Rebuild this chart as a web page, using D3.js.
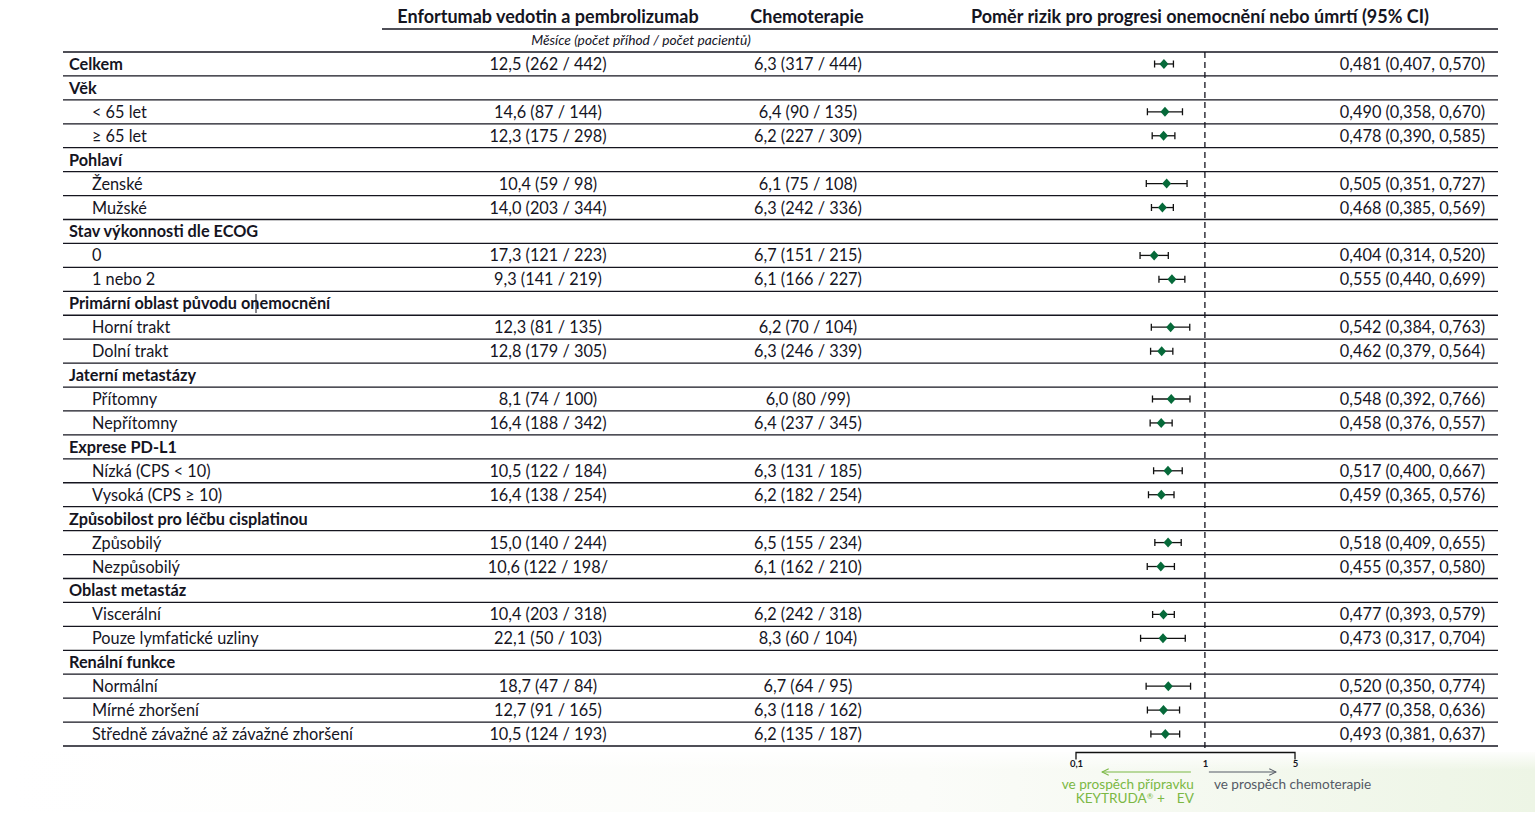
<!DOCTYPE html>
<html><head><meta charset="utf-8">
<script src="https://cdn.jsdelivr.net/npm/d3@7"></script>
<style>
html,body{margin:0;padding:0;background:#fff;}
svg{display:block;font-family:Lato,"Open Sans",sans-serif;}
</style></head><body>
<svg id="c" width="1535" height="832"></svg>
<script>
const labels = ["Celkem","Věk","< 65 let","≥ 65 let","Pohlaví","Ženské","Mužské","Stav výkonnosti dle ECOG","0","1 nebo 2","Primární oblast původu onemocnění","Horní trakt","Dolní trakt","Jaterní metastázy","Přítomny","Nepřítomny","Exprese PD-L1","Nízká (CPS < 10)","Vysoká (CPS ≥ 10)","Způsobilost pro léčbu cisplatinou","Způsobilý","Nezpůsobilý","Oblast metastáz","Viscerální","Pouze lymfatické uzliny","Renální funkce","Normální","Mírné zhoršení","Středně závažné až závažné zhoršení"];
const isGroup = [1,1,0,0,1,0,0,1,0,0,1,0,0,1,0,0,1,0,0,1,0,0,1,0,0,1,0,0,0];
const evText = ["12,5 (262 / 442)","","14,6 (87 / 144)","12,3 (175 / 298)","","10,4 (59 / 98)","14,0 (203 / 344)","","17,3 (121 / 223)","9,3 (141 / 219)","","12,3 (81 / 135)","12,8 (179 / 305)","","8,1 (74 / 100)","16,4 (188 / 342)","","10,5 (122 / 184)","16,4 (138 / 254)","","15,0 (140 / 244)","10,6 (122 / 198/","","10,4 (203 / 318)","22,1 (50 / 103)","","18,7 (47 / 84)","12,7 (91 / 165)","10,5 (124 / 193)"];
const chemoText = ["6,3 (317 / 444)","","6,4 (90 / 135)","6,2 (227 / 309)","","6,1 (75 / 108)","6,3 (242 / 336)","","6,7 (151 / 215)","6,1 (166 / 227)","","6,2 (70 / 104)","6,3 (246 / 339)","","6,0 (80 /99)","6,4 (237 / 345)","","6,3 (131 / 185)","6,2 (182 / 254)","","6,5 (155 / 234)","6,1 (162 / 210)","","6,2 (242 / 318)","8,3 (60 / 104)","","6,7 (64 / 95)","6,3 (118 / 162)","6,2 (135 / 187)"];
const hr = [0.481,null,0.490,0.478,null,0.505,0.468,null,0.404,0.555,null,0.542,0.462,null,0.548,0.458,null,0.517,0.459,null,0.518,0.455,null,0.477,0.473,null,0.520,0.477,0.493];
const hrLo = [0.407,null,0.358,0.390,null,0.351,0.385,null,0.314,0.440,null,0.384,0.379,null,0.392,0.376,null,0.400,0.365,null,0.409,0.357,null,0.393,0.317,null,0.350,0.358,0.381];
const hrHi = [0.570,null,0.670,0.585,null,0.727,0.569,null,0.520,0.699,null,0.763,0.564,null,0.766,0.557,null,0.667,0.576,null,0.655,0.580,null,0.579,0.704,null,0.774,0.636,0.637];
const axisTicks = [0.1,1,5];
const headers = ["Enfortumab vedotin a pembrolizumab","Chemoterapie","Poměr rizik pro progresi onemocnění nebo úmrtí (95% CI)"];
const subHeader = "Měsíce (počet příhod / počet pacientů)";

const fmt = v => v.toFixed(3).replace(".", ",");
const svg = d3.select("#c");
const ink = "#15151f";
const FS = 16.3;

// background band
const defs = svg.append("defs");
const g1 = defs.append("linearGradient").attr("id","bg").attr("x1","0").attr("x2","1");
g1.append("stop").attr("offset","0").attr("stop-color","#ffffff");
g1.append("stop").attr("offset","0.6").attr("stop-color","#fbfcf9");
g1.append("stop").attr("offset","1").attr("stop-color","#edf5e5");
const g2 = defs.append("linearGradient").attr("id","bg2").attr("x1","0").attr("x2","0").attr("y1","0").attr("y2","1");
g2.append("stop").attr("offset","0").attr("stop-color","#ffffff").attr("stop-opacity","0.9");
g2.append("stop").attr("offset","1").attr("stop-color","#ffffff").attr("stop-opacity","0");
svg.append("rect").attr("x",10).attr("y",752).attr("width",1525).attr("height",60).attr("fill","url(#bg)");
svg.append("rect").attr("x",10).attr("y",752).attr("width",1525).attr("height",18).attr("fill","url(#bg2)");

const idx = d3.range(labels.length);
const y = d3.scaleBand().domain(idx).range([52, 746]).padding(0);
const x = d3.scaleLog().domain([0.1, 5]).range([1076, 1295]);
const xL = 63, xR = 1498;

// header
svg.append("g").selectAll("text").data(headers).join("text")
  .attr("x",(d,i)=>[548,807,1200][i]).attr("y",23)
  .attr("text-anchor","middle").attr("font-weight",700).attr("font-size",18).attr("fill",ink).text(d=>d);
svg.append("line").attr("x1",382).attr("x2",xR).attr("y1",29).attr("y2",29).attr("stroke",ink).attr("stroke-width",1.3);
svg.append("text").attr("x",641).attr("y",45).attr("text-anchor","middle").attr("font-style","italic")
  .attr("font-size",13.8).attr("fill",ink).text(subHeader);

// row separators
svg.append("g").selectAll("line").data(idx.concat([labels.length])).join("line")
  .attr("x1",xL).attr("x2",xR)
  .attr("y1",d=> d < labels.length ? y(d) : y.range()[1])
  .attr("y2",d=> d < labels.length ? y(d) : y.range()[1])
  .attr("stroke",ink).attr("stroke-width",1.3);

const cy = i => y(i) + y.bandwidth()/2;
const by = i => cy(i) + 6;

// labels
svg.append("g").selectAll("text").data(idx).join("text")
  .attr("x",i=> isGroup[i] ? 69 : 92).attr("y",by)
  .attr("font-size",FS).attr("font-weight",i=>isGroup[i]?700:400).attr("fill",ink)
  .text(i=>labels[i]);

// EV & chemo
svg.append("g").selectAll("text").data(idx.filter(i=>evText[i])).join("text")
  .attr("x",548).attr("y",by).attr("text-anchor","middle").attr("font-size",FS).attr("fill",ink)
  .text(i=>evText[i]);
svg.append("g").selectAll("text").data(idx.filter(i=>chemoText[i])).join("text")
  .attr("x",808).attr("y",by).attr("text-anchor","middle").attr("font-size",FS).attr("fill",ink)
  .text(i=>chemoText[i]);
// HR text
svg.append("g").selectAll("text").data(idx.filter(i=>hr[i]!=null)).join("text")
  .attr("x",1485).attr("y",by).attr("text-anchor","end").attr("font-size",FS).attr("fill",ink)
  .text(i=>`${fmt(hr[i])} (${fmt(hrLo[i])}, ${fmt(hrHi[i])})`);

// reference dashed line
svg.append("line").attr("x1",x(1)).attr("x2",x(1)).attr("y1",52).attr("y2",753)
  .attr("stroke",ink).attr("stroke-width",1.3).attr("stroke-dasharray","6,4");

// CI whiskers and diamonds
const pts = idx.filter(i=>hr[i]!=null);
const fg = svg.append("g");
fg.selectAll("line.ci").data(pts).join("line").attr("class","ci")
  .attr("x1",i=>x(hrLo[i])).attr("x2",i=>x(hrHi[i])).attr("y1",cy).attr("y2",cy)
  .attr("stroke","#111").attr("stroke-width",1.3);
fg.selectAll("path.cap").data(pts).join("path").attr("class","cap")
  .attr("d",i=>`M${x(hrLo[i])},${cy(i)-3.5}V${cy(i)+3.5}M${x(hrHi[i])},${cy(i)-3.5}V${cy(i)+3.5}`)
  .attr("stroke","#111").attr("stroke-width",1.3).attr("fill","none");
fg.selectAll("path.dm").data(pts).join("path").attr("class","dm")
  .attr("d",i=>{const px=x(hr[i]),py=cy(i);return `M${px},${py-5}L${px+4.5},${py}L${px},${py+5}L${px-4.5},${py}Z`;})
  .attr("fill","#066a3a");

// axis
const axis = d3.axisBottom(x).tickValues(axisTicks).tickSizeInner(0).tickSizeOuter(6).tickPadding(8)
  .tickFormat(d=>String(d).replace(".",","));
const ag = svg.append("g").attr("transform","translate(0,752.5)").call(axis);
ag.select(".domain").attr("stroke","#111").attr("stroke-width",1.3)
  .attr("d",`M${x(0.1)},7V0H${x(5)}V7`);
ag.selectAll("text").attr("font-size",9.5).attr("font-weight",700).attr("fill",ink).attr("font-family","Lato,sans-serif");

// arrows
const green = "#7bb844", grey = "#555a66";
defs.append("marker").attr("id","ag").attr("viewBox","0 0 10 10").attr("refX",9).attr("refY",5)
  .attr("markerWidth",7).attr("markerHeight",7).attr("orient","auto")
  .append("path").attr("d","M1,1L9,5L1,9").attr("fill","none").attr("stroke",green).attr("stroke-width",1.3);
defs.append("marker").attr("id","ak").attr("viewBox","0 0 10 10").attr("refX",9).attr("refY",5)
  .attr("markerWidth",7).attr("markerHeight",7).attr("orient","auto")
  .append("path").attr("d","M1,1L9,5L1,9").attr("fill","none").attr("stroke",grey).attr("stroke-width",1.3);
svg.append("line").attr("x1",x(1)-14).attr("x2",x(0.1)+26).attr("y1",772).attr("y2",772)
  .attr("stroke",green).attr("stroke-width",1.2).attr("marker-end","url(#ag)");
svg.append("line").attr("x1",x(1)+4).attr("x2",x(5)-19).attr("y1",772).attr("y2",772)
  .attr("stroke",grey).attr("stroke-width",1.2).attr("marker-end","url(#ak)");
svg.append("text").attr("x",x(1)-11).attr("y",789).attr("text-anchor","end").attr("font-size",13.6).attr("fill",green)
  .text("ve prospěch přípravku");
const kt = svg.append("text").attr("x",x(1)-11).attr("y",803).attr("text-anchor","end").attr("font-size",13.6).attr("fill",green);
kt.append("tspan").text("KEYTRUDA");
kt.append("tspan").attr("font-size",8).attr("dy",-4).text("®");
kt.append("tspan").attr("dy",4).text(" +");
kt.append("tspan").attr("dx",12).text("EV");
svg.append("text").attr("x",x(1)+9).attr("y",789).attr("font-size",13.6).attr("fill",grey)
  .text("ve prospěch chemoterapie");

// cursor artefact in label
svg.append("line").attr("x1",256).attr("x2",256).attr("y1",294).attr("y2",313).attr("stroke",ink).attr("stroke-width",1);
</script>
</body></html>
